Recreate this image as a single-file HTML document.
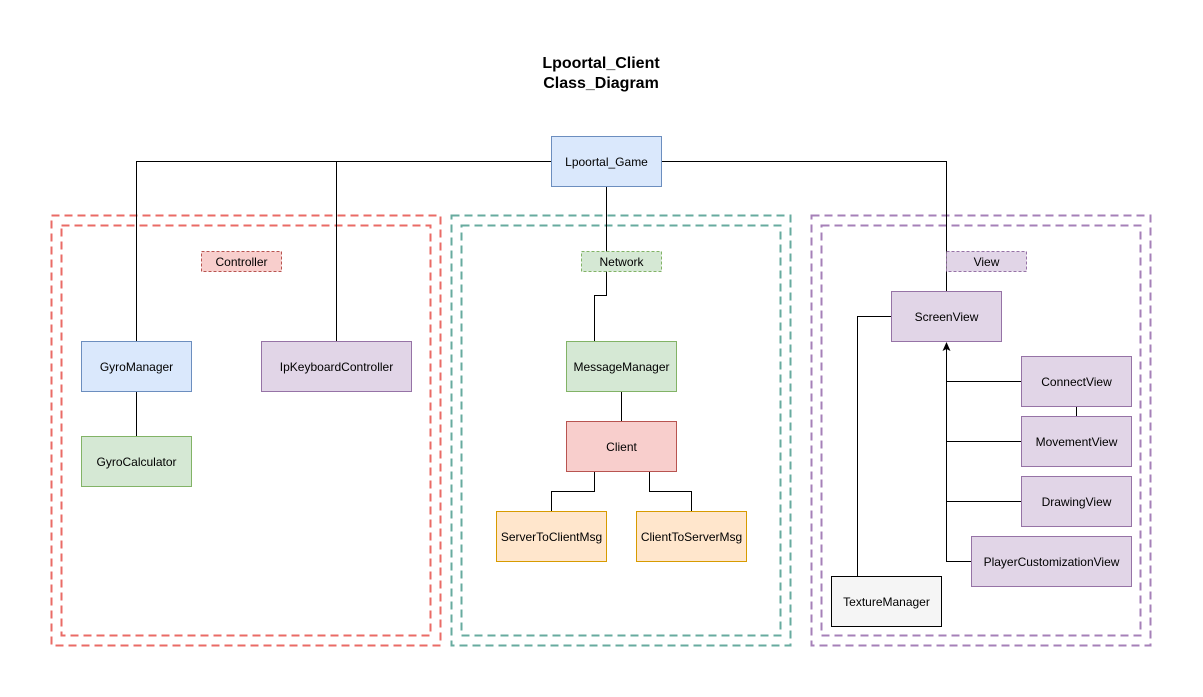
<!DOCTYPE html>
<html><head><meta charset="utf-8"><style>
body{margin:0;background:#fff;}
svg{display:block;font-family:"Liberation Sans",Arial,sans-serif;}
</style></head><body>
<svg width="1203" height="697" viewBox="0 0 1203 697" xmlns="http://www.w3.org/2000/svg">
<rect width="1203" height="697" fill="#fff"/>
<text x="601" y="68" text-anchor="middle" font-size="16" font-weight="bold">Lpoortal_Client</text>
<text x="601" y="88" text-anchor="middle" font-size="16" font-weight="bold">Class_Diagram</text>
<g fill="none" stroke-width="2" stroke-dasharray="8,5">
<rect x="51.5" y="215.5" width="389" height="430" stroke="#ea6b66"/>
<rect x="61.5" y="225.5" width="369" height="410" stroke="#ea6b66"/>
<rect x="451.5" y="215.5" width="339" height="430" stroke="#67ab9f"/>
<rect x="461.5" y="225.5" width="319" height="410" stroke="#67ab9f"/>
<rect x="811.5" y="215.5" width="339" height="430" stroke="#a680b8"/>
<rect x="821.5" y="225.5" width="319" height="410" stroke="#a680b8"/>
</g>
<g fill="none" stroke="#000" stroke-width="1">
<polyline points="551,161.5 136.5,161.5 136.5,341"/>
<polyline points="336.5,161.5 336.5,341"/>
<polyline points="661,161.5 946.5,161.5 946.5,291"/>
<polyline points="606.5,186 606.5,295.5 594.5,295.5 594.5,341"/>
<line x1="621.5" y1="391" x2="621.5" y2="421"/>
<polyline points="594.5,471 594.5,491.5 551.5,491.5 551.5,511"/>
<polyline points="649.5,471 649.5,491.5 691.5,491.5 691.5,511"/>
<line x1="136.5" y1="391" x2="136.5" y2="436"/>
<polyline points="857.5,576 857.5,316.5 891,316.5"/>
<line x1="1076.5" y1="406" x2="1076.5" y2="416"/>
<polyline points="1021,381.5 946.5,381.5"/>
<polyline points="1021,441.5 946.5,441.5"/>
<polyline points="1021,501.5 946.5,501.5"/>
<polyline points="971,561.5 946.5,561.5 946.5,348"/>
</g>
<polygon points="946.5,342 942.5,351 946.5,349 950.5,351" fill="#000"/>
<g font-size="12" text-anchor="middle">
<rect x="201.5" y="251.5" width="80" height="20" fill="#f8cecc" stroke="#b85450" stroke-dasharray="3,2"/>
<text x="241.5" y="266">Controller</text>
<rect x="581.5" y="251.5" width="80" height="20" fill="#d5e8d4" stroke="#82b366" stroke-dasharray="3,2"/>
<text x="621.5" y="266">Network</text>
<rect x="946.5" y="251.5" width="80" height="20" fill="#e1d5e7" stroke="#9673a6" stroke-dasharray="3,2"/>
<text x="986.5" y="266">View</text>

<rect x="551.5" y="136.5" width="110" height="50" fill="#dae8fc" stroke="#6c8ebf"/>
<text x="606.5" y="166">Lpoortal_Game</text>
<rect x="81.5" y="341.5" width="110" height="50" fill="#dae8fc" stroke="#6c8ebf"/>
<text x="136.5" y="371">GyroManager</text>
<rect x="81.5" y="436.5" width="110" height="50" fill="#d5e8d4" stroke="#82b366"/>
<text x="136.5" y="466">GyroCalculator</text>
<rect x="261.5" y="341.5" width="150" height="50" fill="#e1d5e7" stroke="#9673a6"/>
<text x="336.5" y="371">IpKeyboardController</text>
<rect x="566.5" y="341.5" width="110" height="50" fill="#d5e8d4" stroke="#82b366"/>
<text x="621.5" y="371">MessageManager</text>
<rect x="566.5" y="421.5" width="110" height="50" fill="#f8cecc" stroke="#b85450"/>
<text x="621.5" y="451">Client</text>
<rect x="496.5" y="511.5" width="110" height="50" fill="#ffe6cc" stroke="#d79b00"/>
<text x="551.5" y="541">ServerToClientMsg</text>
<rect x="636.5" y="511.5" width="110" height="50" fill="#ffe6cc" stroke="#d79b00"/>
<text x="691.5" y="541">ClientToServerMsg</text>
<rect x="891.5" y="291.5" width="110" height="50" fill="#e1d5e7" stroke="#9673a6"/>
<text x="946.5" y="321">ScreenView</text>
<rect x="1021.5" y="356.5" width="110" height="50" fill="#e1d5e7" stroke="#9673a6"/>
<text x="1076.5" y="386">ConnectView</text>
<rect x="1021.5" y="416.5" width="110" height="50" fill="#e1d5e7" stroke="#9673a6"/>
<text x="1076.5" y="446">MovementView</text>
<rect x="1021.5" y="476.5" width="110" height="50" fill="#e1d5e7" stroke="#9673a6"/>
<text x="1076.5" y="506">DrawingView</text>
<rect x="971.5" y="536.5" width="160" height="50" fill="#e1d5e7" stroke="#9673a6"/>
<text x="1051.5" y="566">PlayerCustomizationView</text>
<rect x="831.5" y="576.5" width="110" height="50" fill="#f5f5f5" stroke="#000"/>
<text x="886.5" y="606">TextureManager</text>
</g>
</svg>
</body></html>
